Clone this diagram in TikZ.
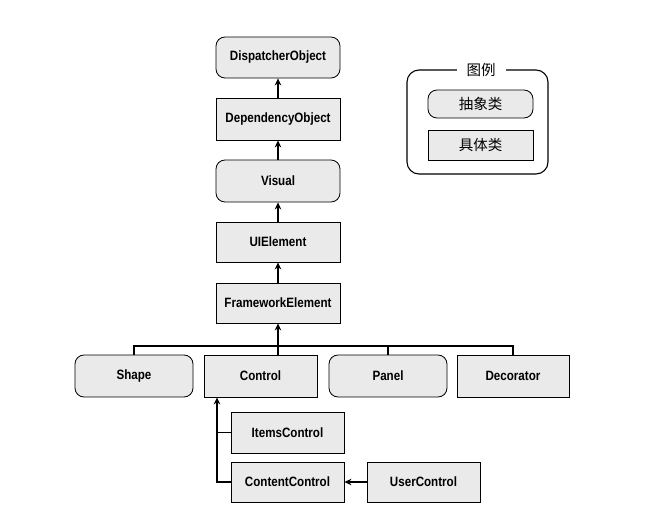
\documentclass[tikz,border=0pt]{standalone}
\usepackage{fontspec}
\setmainfont{Liberation Sans}
\newfontfamily\labfont[FakeStretch=0.86]{Liberation Sans}
\newfontfamily\cjk{Noto Sans CJK SC}
\usetikzlibrary{arrows.meta}
\definecolor{boxfill}{HTML}{EAEAEA}
\tikzset{
  cls/.style={draw=black, line width=0.85pt, fill=boxfill, inner sep=0pt,
    font=\labfont\bfseries\fontsize{13.5}{15}\selectfont},
  abstractcls/.style={cls, rounded corners=9pt},
  concretecls/.style={cls},
  legcls/.style={draw=black, line width=0.85pt, fill=boxfill, inner sep=0pt,
    font=\cjk\fontsize{14.5}{16}\selectfont},
  conn/.style={line width=1.1pt},
  inherit/.style={conn, -{Stealth[length=7pt,width=6.5pt]}}
}
\begin{document}
\begin{tikzpicture}[x=1pt,y=-1pt]
\useasboundingbox[fill=white] (0,0) rectangle (652,511);
% main column
\node[abstractcls, minimum width=124pt, minimum height=41pt] (disp) at (278,57.5) {DispatcherObject};
\node[concretecls, minimum width=124pt, minimum height=42pt] (dep) at (278,119) {DependencyObject};
\node[abstractcls, minimum width=124pt, minimum height=42pt] (visual) at (278,181) {Visual};
\node[concretecls, minimum width=124pt, minimum height=40pt] (uie) at (278,242) {UIElement};
\node[concretecls, minimum width=124pt, minimum height=40pt] (fe) at (278,303) {FrameworkElement};
% bottom row
\node[abstractcls, minimum width=118pt, minimum height=42pt] (shape) at (134,376) {Shape};
\node[concretecls, minimum width=113pt, minimum height=42pt] (control) at (260.5,376) {Control};
\node[abstractcls, minimum width=118pt, minimum height=42pt] (panel) at (388,376) {Panel};
\node[concretecls, minimum width=112pt, minimum height=42pt] (decorator) at (513,376) {Decorator};
% control subclasses
\node[concretecls, minimum width=113pt, minimum height=41pt] (items) at (287.5,432.5) {ItemsControl};
\node[concretecls, minimum width=113pt, minimum height=40pt] (content) at (287.5,482) {ContentControl};
\node[concretecls, minimum width=113pt, minimum height=40pt] (user) at (423.5,482) {UserControl};
% connectors
\draw[inherit] (dep) -- (disp);
\draw[inherit] (visual) -- (dep);
\draw[inherit] (uie) -- (visual);
\draw[inherit] (fe) -- (uie);
\coordinate (bus) at (278,346);
\draw[conn] (shape.north) -- (shape.north |- bus) -- (decorator.north |- bus) -- (decorator.north);
\draw[conn] (panel.north) -- (panel.north |- bus);
\draw[inherit] (control.north -| fe.south) -- (fe.south);
\coordinate (cj) at (217,482);
\draw[inherit] (content.west) -- (content.west -| cj) -- (control.south -| cj);
\draw[conn] (items.west) -- (items.west -| cj);
\draw[inherit] (user.west) -- (content.east);
% legend
\draw[conn, rounded corners=12pt] (407,70) rectangle (548,174);
\node[fill=white, inner xsep=10pt, inner ysep=2pt, font=\cjk\fontsize{14.5}{16}\selectfont] (legtitle) at (481,70) {图例};
\node[legcls, rounded corners=9pt, minimum width=105pt, minimum height=28pt] (legabs) at (480.5,104) {抽象类};
\node[legcls, minimum width=105pt, minimum height=30pt] (legcon) at (480.5,145) {具体类};
\end{tikzpicture}
\end{document}
